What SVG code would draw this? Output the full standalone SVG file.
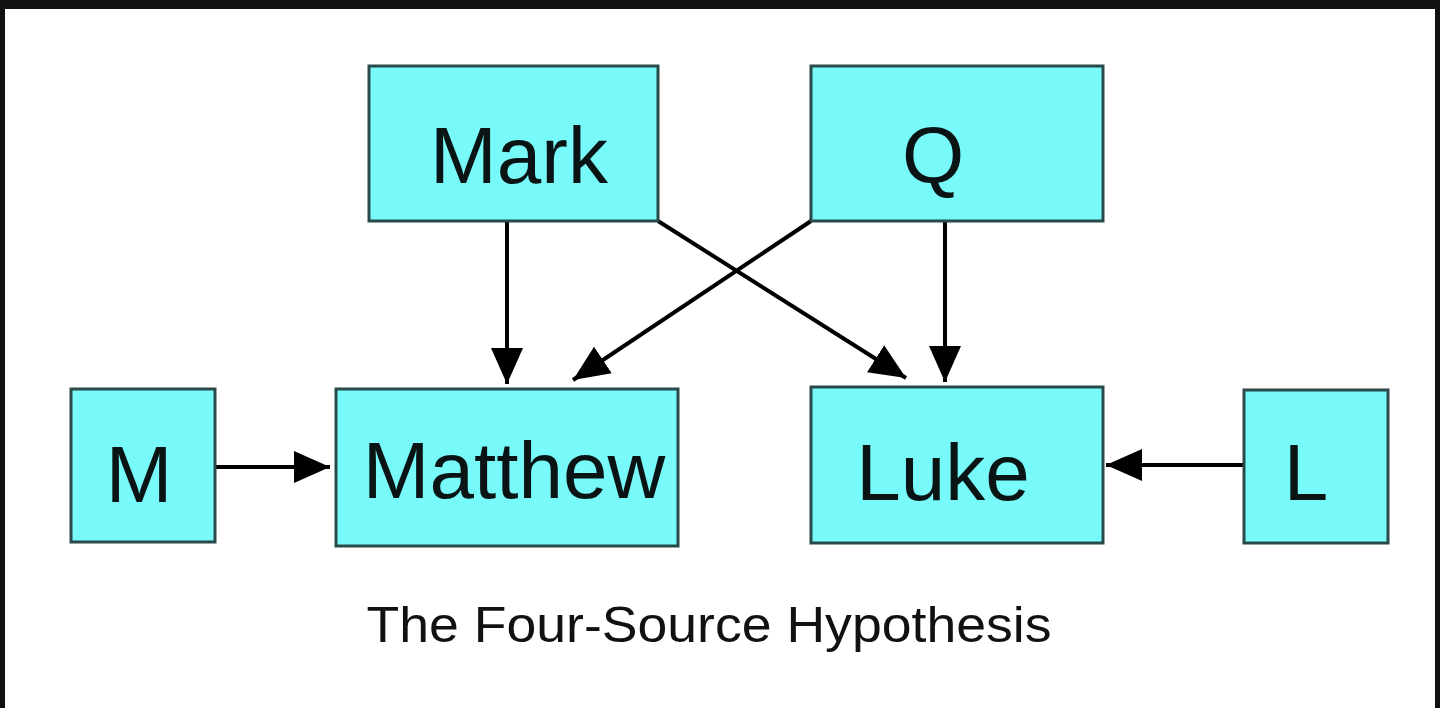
<svg xmlns="http://www.w3.org/2000/svg" width="1440" height="708" viewBox="0 0 1440 708">
<style>
.box{fill:#78fafa;stroke:#2a4a4a;stroke-width:3}
.lbl{font-family:"Liberation Sans",Arial,sans-serif;font-size:80px;fill:#0a1414;text-anchor:middle}
.cap{font-family:"Liberation Sans",Arial,sans-serif;font-size:50px;fill:#111;text-anchor:middle}
.ln{stroke:#000;stroke-width:4;fill:none;marker-end:url(#ah)}
</style>
<defs><marker id="ah" markerWidth="10" markerHeight="10" refX="9" refY="5" orient="auto" markerUnits="strokeWidth"><path d="M0,1 L9,5 L0,9 Z" fill="#000"/></marker></defs>
<rect width="1440" height="708" fill="#fff"/>
<rect x="0" y="0" width="1440" height="9" fill="#111"/>
<rect x="0" y="0" width="5" height="708" fill="#111"/>
<rect x="1435" y="0" width="5" height="708" fill="#111"/>
<g id="connectors">
<line class="ln" x1="507" y1="221" x2="507" y2="384"/>
<line class="ln" x1="945" y1="221" x2="945" y2="382"/>
<line class="ln" x1="658" y1="221" x2="906" y2="378"/>
<line class="ln" x1="811" y1="221" x2="573" y2="380"/>
<line class="ln" x1="215" y1="467" x2="330" y2="467"/>
<line class="ln" x1="1244" y1="465" x2="1106" y2="465"/>
</g>
<g id="mark"><rect class="box" x="369" y="66" width="289" height="155"/><text class="lbl" x="519" y="183">Mark</text></g>
<g id="q"><rect class="box" x="811" y="66" width="292" height="155"/><text class="lbl" x="933" y="183">Q</text></g>
<g id="m"><rect class="box" x="71" y="389" width="144" height="153"/><text class="lbl" x="139" y="502">M</text></g>
<g id="matthew"><rect class="box" x="336" y="389" width="342" height="157"/><text class="lbl" x="514" y="498">Matthew</text></g>
<g id="luke"><rect class="box" x="811" y="387" width="292" height="156"/><text class="lbl" x="943" y="500">Luke</text></g>
<g id="l"><rect class="box" x="1244" y="390" width="144" height="153"/><text class="lbl" x="1306" y="500">L</text></g>
<text class="cap" x="709" y="642" textLength="685" lengthAdjust="spacingAndGlyphs">The Four-Source Hypothesis</text>
</svg>
